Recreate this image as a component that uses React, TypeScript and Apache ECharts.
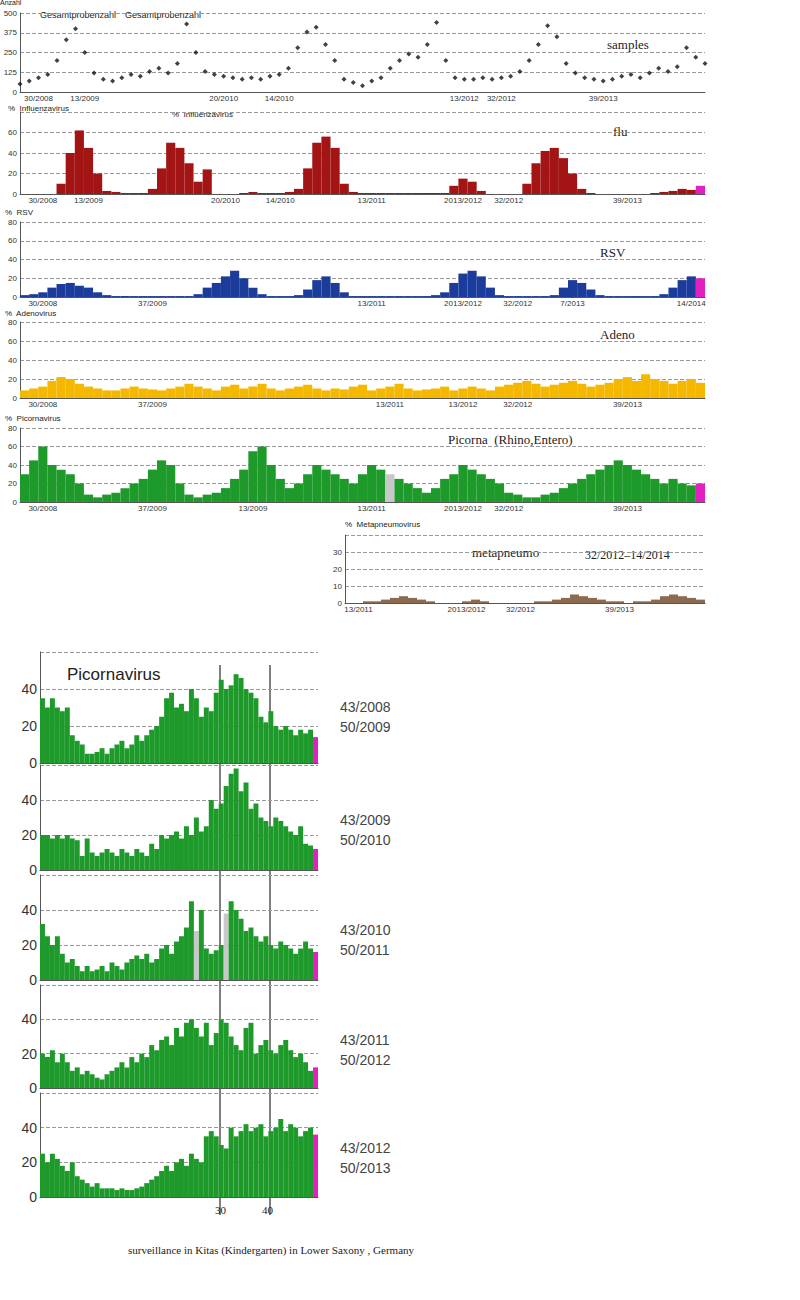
import { useEffect, useRef } from 'react'
import * as echarts from 'echarts'

// top panels: one value every ~4 weeks, 30/2008 .. 14/2014
const samples = [50,70,90,110,200,330,400,250,120,80,70,90,110,100,130,150,120,180,430,250,130,110,100,90,80,90,80,100,110,150,280,380,410,300,200,80,60,40,70,90,150,200,240,220,300,440,200,90,80,80,90,80,90,100,130,200,300,420,350,180,120,90,80,70,80,100,110,90,120,150,130,160,280,220,180]
const flu = [0,0,0,0,10,40,62,45,20,3,2,1,1,1,5,25,50,45,30,12,24,0,0,0,1,2,1,1,1,2,5,25,50,56,45,10,2,1,1,1,1,1,1,1,1,1,1,8,15,12,3,0,0,0,0,10,30,42,45,35,20,5,1,0,0,0,0,0,0,1,2,3,5,4,8]
const rsv = [2,3,5,10,14,15,12,10,5,2,1,1,1,1,1,1,1,1,1,3,10,15,22,28,20,10,3,1,1,1,2,8,18,22,15,5,1,1,1,1,1,1,1,1,1,2,5,15,25,28,22,10,2,1,1,1,1,1,2,10,18,15,8,2,1,1,1,1,1,1,3,10,18,22,20]
const adeno = [8,10,12,18,22,20,15,12,10,8,8,10,12,10,9,8,10,12,15,12,10,8,12,14,10,12,15,10,8,10,12,14,10,8,10,9,12,14,8,10,12,15,10,8,9,10,12,8,10,12,10,8,12,14,16,18,15,12,14,16,18,15,12,14,16,20,22,18,25,20,18,15,18,20,16]
const picorna = [30,45,60,40,35,30,20,8,5,8,10,15,20,25,35,45,40,20,8,5,8,10,15,25,35,55,60,40,25,15,20,30,40,35,30,25,20,30,40,35,30,25,20,15,10,15,25,30,40,35,30,25,20,10,8,5,5,8,10,15,20,25,30,35,40,45,40,35,30,25,20,25,20,18,20]
const metapneumo = [0,0,1,1,2,3,4,3,2,1,0,0,0,1,2,1,0,0,0,0,0,1,1,2,3,5,4,3,2,1,1,0,1,1,2,4,5,4,3,2]

const samplesTicks: [number, string][] = [[2,'30/2008'],[7,'13/2009'],[22,'20/2010'],[28,'14/2010'],[48,'13/2012'],[52,'32/2012'],[63,'39/2013']]
const fluTicks: [number, string][] = [[2,'30/2008'],[7,'13/2009'],[22,'20/2010'],[28,'14/2010'],[38,'13/2011'],[48,'2013/2012'],[53,'32/2012'],[66,'39/2013']]
const rsvTicks: [number, string][] = [[2,'30/2008'],[14,'37/2009'],[38,'13/2011'],[48,'2013/2012'],[54,'32/2012'],[60,'7/2013'],[73,'14/2014']]
const adenoTicks: [number, string][] = [[2,'30/2008'],[14,'37/2009'],[40,'13/2011'],[48,'13/2012'],[54,'32/2012'],[66,'39/2013']]
const picornaTicks: [number, string][] = [[2,'30/2008'],[14,'37/2009'],[25,'13/2009'],[38,'13/2011'],[48,'2013/2012'],[53,'32/2012'],[66,'39/2013']]
const metaTicks: [number, string][] = [[1,'13/2011'],[13,'2013/2012'],[19,'32/2012'],[30,'39/2013']]

// bottom panels: Picornavirus weeks 43 .. 50 of following year
const pico1 = [35,30,35,30,28,30,15,12,10,5,5,6,8,5,8,10,12,8,10,15,12,15,18,20,25,35,38,30,32,28,40,35,25,30,28,38,45,40,42,48,46,40,38,35,25,22,28,20,18,20,18,15,18,16,18,14]
const pico2 = [20,20,18,20,18,20,18,17,8,18,10,8,10,12,10,8,12,10,8,12,10,8,15,12,20,18,20,22,18,25,20,30,22,25,40,35,38,48,55,58,45,50,35,38,30,28,25,30,28,25,22,20,25,15,14,12]
const pico3 = [32,25,20,25,15,10,12,8,5,8,5,6,8,5,10,8,6,10,12,14,12,15,10,12,18,20,15,22,25,30,45,28,40,18,15,17,20,38,45,40,35,28,30,25,22,25,20,18,22,20,18,15,18,22,18,16]
const pico4 = [20,18,22,15,20,15,10,12,8,10,8,6,5,8,10,12,15,12,18,15,20,18,25,22,28,30,25,35,30,38,40,35,30,38,25,32,40,38,30,25,22,35,38,20,25,28,22,20,25,28,22,18,20,15,10,12]
const pico5 = [25,20,25,22,18,15,20,12,10,8,6,8,5,5,5,4,5,4,4,5,6,8,10,12,15,18,15,20,22,18,25,22,20,35,38,35,30,28,40,35,38,42,38,40,42,35,38,40,45,38,42,40,35,38,40,36]
const picoLabels = ['43/2008\n50/2009', '43/2009\n50/2010', '43/2010\n50/2011', '43/2011\n50/2012', '43/2012\n50/2013']

const MAGENTA = '#e020c0'

export default function App() {
  const ref = useRef<HTMLDivElement>(null)

  useEffect(() => {
    if (!ref.current) return
    const chart = echarts.init(ref.current, null, { renderer: 'svg' })

    const grids: any[] = []
    const xAxes: any[] = []
    const yAxes: any[] = []
    const series: any[] = []
    const graphics: any[] = []

    const cats = (n: number, ticks: [number, string][]) => {
      const a = Array.from({ length: n }, () => '')
      ticks.forEach(([i, t]) => { a[i] = t })
      return a
    }

    const addPanel = (pos: any, data: number[], ticks: [number, string][], yMax: number, yInt: number,
      color: string, opts: { scatter?: boolean, magentaLast?: boolean, grey?: number[], labelSize?: number, hideMax?: boolean } = {}) => {
      const idx = grids.length
      grids.push({ ...pos, containLabel: false })
      xAxes.push({
        gridIndex: idx, type: 'category', data: cats(data.length, ticks), boundaryGap: !opts.scatter,
        axisLine: { lineStyle: { color: '#555' } }, axisTick: { show: false },
        axisLabel: { interval: 0, fontSize: opts.labelSize ?? 8, color: '#333', margin: 2, fontFamily: 'Liberation Sans' },
      })
      yAxes.push({
        gridIndex: idx, type: 'value', min: 0, max: yMax, interval: yInt,
        axisLine: { show: true, lineStyle: { color: '#555' } }, axisTick: { show: false },
        axisLabel: { fontSize: opts.labelSize ?? 8, color: '#333', margin: 3, fontFamily: 'Liberation Sans', showMaxLabel: !opts.hideMax },
        splitLine: { lineStyle: { type: 'dashed', color: '#999' } },
      })
      if (opts.scatter) {
        series.push({ type: 'scatter', xAxisIndex: idx, yAxisIndex: idx, data, symbol: 'diamond', symbolSize: 5, itemStyle: { color: '#111' } })
      } else {
        series.push({
          type: 'bar', xAxisIndex: idx, yAxisIndex: idx, barCategoryGap: '0%',
          data: data.map((v, i) => ({
            value: v,
            itemStyle: {
              color: opts.magentaLast && i === data.length - 1 ? MAGENTA
                : opts.grey && opts.grey.includes(i) ? '#c8c8c8' : color,
            },
          })),
        })
      }
    }

    addPanel({ left: 20, right: 95, top: 13, height: 79 }, samples, samplesTicks, 500, 125, '#111', { scatter: true })
    addPanel({ left: 20, right: 95, top: 112, height: 82 }, flu, fluTicks, 80, 20, '#a31515', { magentaLast: true, hideMax: true })
    addPanel({ left: 20, right: 95, top: 222, height: 75 }, rsv, rsvTicks, 80, 20, '#1c3c9c', { magentaLast: true })
    addPanel({ left: 20, right: 95, top: 322, height: 76 }, adeno, adenoTicks, 80, 20, '#f5b800')
    addPanel({ left: 20, right: 95, top: 428, height: 74 }, picorna, picornaTicks, 80, 20, '#1d9a2a', { magentaLast: true, grey: [40] })
    addPanel({ left: 345, right: 95, top: 535, height: 68 }, metapneumo, metaTicks, 40, 10, '#8b6a50', { hideMax: true })

    const pTops = [652, 765, 875, 985, 1093]
    const pHeights = [111, 105, 105, 103, 104]
    const picos = [pico1, pico2, pico3, pico4, pico5]
    picos.forEach((d, k) => {
      addPanel({ left: 40, right: 482, top: pTops[k], height: pHeights[k] }, d, [], 60, 20, '#1d9a2a',
        { magentaLast: true, grey: k === 2 ? [31, 37] : [], labelSize: 14, hideMax: true })
      graphics.push({ type: 'text', left: 340, top: pTops[k] + 45, style: { text: picoLabels[k], font: '14px "Liberation Sans"', fill: '#444', lineHeight: 20 } })
    })

    const txt = (x: number, y: number, text: string, font: string) =>
      graphics.push({ type: 'text', left: x, top: y, style: { text, font, fill: '#222' } })
    txt(0, -1, 'Anzahl', '7px "Liberation Sans"')
    txt(40, 10, 'Gesamtprobenzahl', '9px "Liberation Sans"')
    txt(125, 10, 'Gesamtprobenzahl', '9px "Liberation Sans"')
    txt(8, 104, '%  Influenzavirus', '8px "Liberation Sans"')
    txt(172, 110, '%  Influenzavirus', '8px "Liberation Sans"')
    txt(5, 208, '%  RSV', '8px "Liberation Sans"')
    txt(5, 309, '%  Adenovirus', '8px "Liberation Sans"')
    txt(5, 414, '%  Picornavirus', '8px "Liberation Sans"')
    txt(345, 520, '%  Metapneumovirus', '8px "Liberation Sans"')
    txt(607, 38, 'samples', '13px "Liberation Serif"')
    txt(613, 125, 'flu', '13px "Liberation Serif"')
    txt(600, 246, 'RSV', '13px "Liberation Serif"')
    txt(600, 328, 'Adeno', '13px "Liberation Serif"')
    txt(448, 433, 'Picorna  (Rhino,Entero)', '13px "Liberation Serif"')
    txt(472, 546, 'metapneumo', '13px "Liberation Serif"')
    txt(585, 549, '32/2012–14/2014', '12px "Liberation Serif"')
    txt(67, 666, 'Picornavirus', '17px "Liberation Sans"')
    txt(215, 1204, '30', '11px "Liberation Serif"')
    txt(262, 1204, '40', '11px "Liberation Serif"')
    txt(128, 1244, 'surveillance in Kitas (Kindergarten) in Lower Saxony , Germany', '11px "Liberation Serif"')
    ;[220, 270].forEach((x) => graphics.push({ type: 'line', shape: { x1: x, y1: 665, x2: x, y2: 1215 }, style: { stroke: '#000', lineWidth: 1 } }))

    chart.setOption({
      animation: false,
      grid: grids, xAxis: xAxes, yAxis: yAxes, series, graphic: graphics,
    })

    return () => chart.dispose()
  }, [])

  return <div ref={ref} style={{ position: 'absolute', left: 0, top: 0, width: 800, height: 1300, background: '#fff' }} />
}
